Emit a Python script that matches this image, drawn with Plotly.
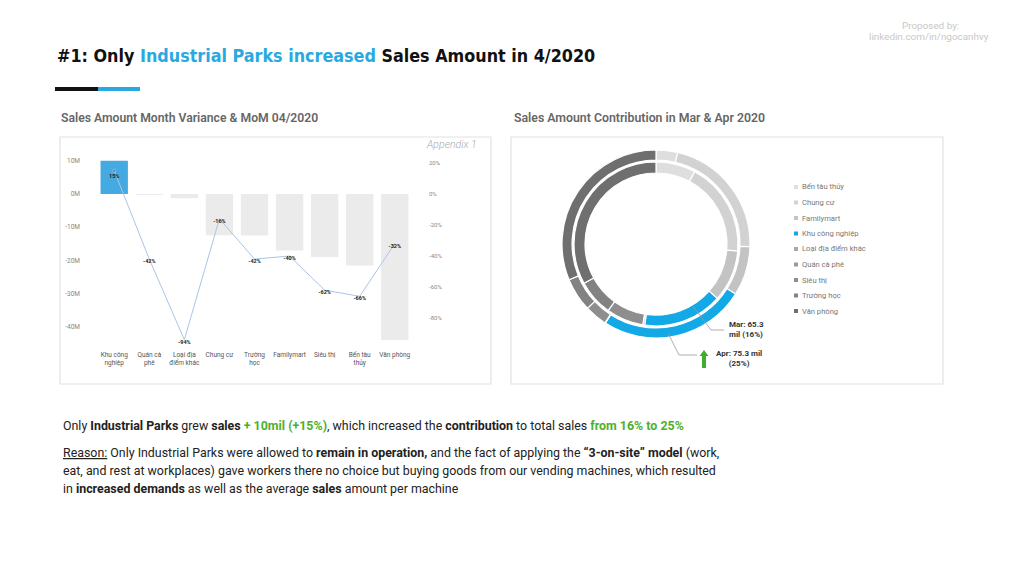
import plotly.graph_objects as go

# ---------------- data ----------------
categories = ["Khu công nghiệp", "Quán cà phê", "Loại địa điểm khác", "Chung cư", "Trường học",
              "Familymart", "Siêu thị", "Bến tàu thủy", "Văn phòng"]
cat_ticktext = ["Khu công<br>nghiệp", "Quán cà<br>phê", "Loại địa<br>điểm khác", "Chung cư", "Trường<br>học",
                "Familymart", "Siêu thị", "Bến tàu<br>thủy", "Văn phòng"]
variance_m = [10.0, -0.1, -1.3, -12.4, -12.5, -17.0, -19.0, -21.5, -44.0]   # million VND, Apr vs Mar
mom_pct = [15, -42, -94, -16, -42, -40, -62, -66, -32]                      # %

donut_labels = ["Bến tàu thủy", "Chung cư", "Familymart", "Khu công nghiệp", "Loại địa điểm khác",
                "Quán cà phê", "Siêu thị", "Trường học", "Văn phòng"]
mar_sales = [32.6, 77.5, 42.5, 65.3, 1.4, 0.24, 30.6, 29.8, 137.5]
apr_sales = [11.1, 65.1, 25.5, 75.3, 0.08, 0.14, 11.6, 17.3, 93.5]

left_tickvals = [10e6, 0, -10e6, -20e6, -30e6, -40e6]
left_ticktext = ["10M", "0M", "-10M", "-20M", "-30M", "-40M"]
right_tickvals = [20, 0, -20, -40, -60, -80]
right_ticktext = ["20%", "0%", "-20%", "-40%", "-60%", "-80%"]

# ---------------- styles ----------------
OFF = 8                # page body margin of the html page
FW, FH = 1024 - OFF, 576 - OFF
BLUE = "#2aa8e0"
GREEN = "#4db02b"
donut_colors = ["#dedede", "#d2d2d2", "#c3c3c3", "#13a9e6", "#a8a8a8",
                "#9a9a9a", "#8e8e8e", "#828282", "#6f6f6f"]
bar_colors = ["#45a9e2" if c == "Khu công nghiệp" else "#ebebeb" for c in categories]
line_marker_sizes = [3 if c == "Khu công nghiệp" else 0 for c in categories]


def px(x):
    return (x - OFF) / FW


def py(y):
    return 1 - (y - OFF) / FH


fig = go.Figure()

# bars (variance)
fig.add_trace(go.Bar(
    x=categories, y=[v * 1e6 for v in variance_m],
    marker=dict(color=bar_colors, line=dict(width=0)),
    width=0.78, xaxis="x", yaxis="y", hoverinfo="skip",
))
# MoM line
fig.add_trace(go.Scatter(
    x=categories, y=mom_pct, mode="lines+markers+text",
    text=[f"{v}%" for v in mom_pct], textposition="bottom center",
    textfont=dict(family="Roboto", size=5.5, color="#222", weight="bold"),
    line=dict(color="#a9c5e8", width=1),
    marker=dict(size=line_marker_sizes, color="#2f6fa8"),
    xaxis="x", yaxis="y2", hoverinfo="skip",
))

# donut rings: outer = Apr, inner = Mar
cx, cy = 656, 244
r_out, r_in = 94, 82
fig.add_trace(go.Pie(
    labels=donut_labels, values=apr_sales, sort=False, direction="clockwise", rotation=0,
    hole=0.893, textinfo="none", hoverinfo="label+value",
    marker=dict(colors=donut_colors, line=dict(color="white", width=1.2)),
    domain=dict(x=[px(cx - r_out), px(cx + r_out)], y=[py(cy + r_out), py(cy - r_out)]),
    showlegend=False,
))
fig.add_trace(go.Pie(
    labels=donut_labels, values=mar_sales, sort=False, direction="clockwise", rotation=0,
    hole=0.866, textinfo="none", hoverinfo="label+value",
    marker=dict(colors=donut_colors, line=dict(color="white", width=1.2)),
    domain=dict(x=[px(cx - r_in), px(cx + r_in)], y=[py(cy + r_in), py(cy - r_in)]),
    showlegend=False,
))

# axis ranges (0 aligned at y=194px on both axes)
top_px, bot_px, zero_px = 148, 345, 194
ppm = 3.32   # px per million
ppp = 1.55   # px per percent

fig.update_layout(
    width=FW, height=FH, margin=dict(l=0, r=0, t=0, b=0),
    paper_bgcolor="white", plot_bgcolor="rgba(0,0,0,0)", showlegend=False,
    font=dict(family="Roboto", color="#333"),
    xaxis=dict(domain=[px(95.3), px(413.7)], anchor="y", showgrid=False, zeroline=False,
               showline=False, ticks="", tickmode="array", tickvals=categories, ticktext=cat_ticktext,
               tickfont=dict(size=6.5, color="#555"), ticklabelstandoff=4, fixedrange=True),
    yaxis=dict(domain=[py(bot_px), py(top_px)], anchor="free", position=px(80),
               range=[-(bot_px - zero_px) / ppm * 1e6, (zero_px - top_px) / ppm * 1e6],
               showgrid=False, zeroline=False, showline=False, ticks="",
               tickmode="array", tickvals=left_tickvals, ticktext=left_ticktext,
               tickfont=dict(size=6.5, color="#888")),
    yaxis2=dict(overlaying="y", side="right", anchor="free", position=px(428),
                range=[-(bot_px - zero_px) / ppp, (zero_px - top_px) / ppp],
                showgrid=False, zeroline=False, showline=False, ticks="",
                tickmode="array", tickvals=right_tickvals, ticktext=right_ticktext,
                tickfont=dict(size=6, color="#888")),
)

shapes = []
annotations = []

# panel frames
shapes.append(dict(type="rect", xref="paper", yref="paper", x0=px(60), x1=px(491), y0=py(384), y1=py(137),
                   line=dict(color="#e2e2e2", width=1.2), fillcolor="rgba(0,0,0,0)", layer="below"))
shapes.append(dict(type="rect", xref="paper", yref="paper", x0=px(511), x1=px(943), y0=py(384), y1=py(137),
                   line=dict(color="#e2e2e2", width=1.2), fillcolor="rgba(0,0,0,0)", layer="below"))
# header underline bars
shapes.append(dict(type="rect", xref="paper", yref="paper", x0=px(55), x1=px(98), y0=py(91), y1=py(87),
                   line=dict(width=0), fillcolor="#111"))
shapes.append(dict(type="rect", xref="paper", yref="paper", x0=px(98), x1=px(140), y0=py(91), y1=py(87),
                   line=dict(width=0), fillcolor=BLUE))

# title
annotations.append(dict(
    xref="paper", yref="paper", x=px(55), y=py(55), xanchor="left", yanchor="middle", showarrow=False,
    text=f"#1: Only <span style='color:{BLUE}'>Industrial Parks increased</span> Sales Amount in 4/2020",
    font=dict(family="DejaVu Sans Condensed", size=17.8, color="#111", weight="bold"),
))
# proposed by
annotations.append(dict(
    xref="paper", yref="paper", x=px(930), y=py(25), xanchor="center", yanchor="middle", showarrow=False,
    text="Proposed by:", font=dict(family="Roboto", size=9.9, color="#c8c8c8"),
))
annotations.append(dict(
    xref="paper", yref="paper", x=px(929), y=py(37), xanchor="center", yanchor="middle", showarrow=False,
    text="linkedin.com/in/ngocanhvy", font=dict(family="Roboto", size=9.9, color="#c8c8c8"),
))
# section titles
annotations.append(dict(
    xref="paper", yref="paper", x=px(59), y=py(118), xanchor="left", yanchor="middle", showarrow=False,
    text="Sales Amount Month Variance & MoM 04/2020",
    font=dict(family="Roboto", size=12.2, color="#666", weight=600),
))
annotations.append(dict(
    xref="paper", yref="paper", x=px(512), y=py(118), xanchor="left", yanchor="middle", showarrow=False,
    text="Sales Amount Contribution in Mar & Apr 2020",
    font=dict(family="Roboto", size=12.3, color="#666", weight=600),
))
annotations.append(dict(
    xref="paper", yref="paper", x=px(479), y=py(145), xanchor="right", yanchor="middle", showarrow=False,
    text="<i>Appendix 1</i>", font=dict(family="Roboto", size=10.5, color="#aaa", weight=300),
))

# custom legend
for i, (lab, col) in enumerate(zip(donut_labels, donut_colors)):
    yy = 187 + i * 15.5
    shapes.append(dict(type="rect", xref="paper", yref="paper", x0=px(794), x1=px(798),
                       y0=py(yy + 2), y1=py(yy - 2), line=dict(width=0), fillcolor=col))
    annotations.append(dict(xref="paper", yref="paper", x=px(800), y=py(yy), xanchor="left",
                            yanchor="middle", showarrow=False, text=lab,
                            font=dict(family="Roboto", size=7.6, color="#777")))

# donut callouts
shapes.append(dict(type="path", xref="paper", yref="paper",
                   path=f"M {px(693)},{py(306)} L {px(711)},{py(330)} L {px(724)},{py(330)}",
                   line=dict(color="#999", width=0.8)))
shapes.append(dict(type="path", xref="paper", yref="paper",
                   path=f"M {px(668)},{py(333)} L {px(679)},{py(355)} L {px(697)},{py(355)}",
                   line=dict(color="#999", width=0.8)))
annotations.append(dict(xref="paper", yref="paper", x=px(727), y=py(329), xanchor="left", yanchor="middle",
                        showarrow=False, align="left", text="<b>Mar: 65.3<br>mil (16%)</b>",
                        font=dict(family="Roboto", size=8, color="#333")))
annotations.append(dict(xref="paper", yref="paper", x=px(739), y=py(358), xanchor="center", yanchor="middle",
                        showarrow=False, align="center", text="<b>Apr: 75.3 mil<br>(25%)</b>",
                        font=dict(family="Roboto", size=8, color="#333")))
# green up arrow
ax, ay_top, ay_bot = 704, 350, 368
shapes.append(dict(type="path", xref="paper", yref="paper",
                   path=(f"M {px(ax)},{py(ay_top)} L {px(ax + 4.5)},{py(ay_top + 6)} L {px(ax + 2)},{py(ay_top + 6)} "
                         f"L {px(ax + 2)},{py(ay_bot)} L {px(ax - 2)},{py(ay_bot)} L {px(ax - 2)},{py(ay_top + 6)} "
                         f"L {px(ax - 4.5)},{py(ay_top + 6)} Z"),
                   fillcolor="#3fae2a", line=dict(width=0)))

# body text
body_font = dict(family="Roboto", size=12.4, color="#222")
annotations.append(dict(
    xref="paper", yref="paper", x=px(61), y=py(425), xanchor="left", yanchor="middle", showarrow=False,
    text=(f"Only <b>Industrial Parks</b> grew <b>sales</b> <b><span style='color:{GREEN}'>+ 10mil (+15%)</span></b>, "
          f"which increased the <b>contribution</b> to total sales <b><span style='color:{GREEN}'>from 16% to 25%</span></b>"),
    font=body_font,
))
annotations.append(dict(
    xref="paper", yref="paper", x=px(61), y=py(452), xanchor="left", yanchor="middle", showarrow=False,
    text=("<span style='text-decoration:underline'>Reason:</span> Only Industrial Parks were allowed to "
          "<b>remain in operation,</b> and the fact of applying the <b>\u201c3-on-site\u201d model</b> (work,"),
    font=body_font,
))
annotations.append(dict(
    xref="paper", yref="paper", x=px(61), y=py(470), xanchor="left", yanchor="middle", showarrow=False,
    text=("eat, and rest at workplaces) gave workers there no choice but buying goods from our vending machines, "
          "which resulted"),
    font=body_font,
))
annotations.append(dict(
    xref="paper", yref="paper", x=px(61), y=py(488), xanchor="left", yanchor="middle", showarrow=False,
    text="in <b>increased demands</b> as well as the average <b>sales</b> amount per machine",
    font=body_font,
))

fig.update_layout(shapes=shapes, annotations=annotations)
fig.write_html("out.html")
